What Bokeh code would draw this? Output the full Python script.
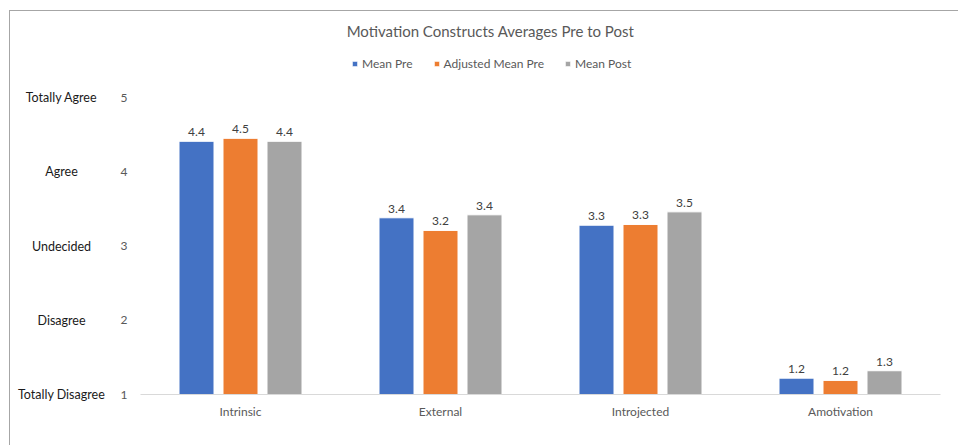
from bokeh.plotting import figure
from bokeh.layouts import row, column
from bokeh.models import (ColumnDataSource, FactorRange, Range1d, FixedTicker, Label,
                          Legend, LegendItem)
from bokeh.transform import dodge
from bokeh.embed import file_html
from bokeh.resources import INLINE

categories = ["Intrinsic", "External", "Introjected", "Amotivation"]
mean_pre = [4.41, 3.38, 3.28, 1.22]
adjusted_mean_pre = [4.45, 3.21, 3.29, 1.19]
mean_post = [4.41, 3.42, 3.46, 1.32]
series_names = ["Mean Pre", "Adjusted Mean Pre", "Mean Post"]
scale_ticks = [1, 2, 3, 4, 5]
scale_words = ["Totally Disagree", "Disagree", "Undecided", "Agree", "Totally Agree"]
title_text = "Motivation Constructs Averages Pre to Post"

colors = ["#4472C4", "#ED7D31", "#A5A5A5"]
FONT = "Lato"

# layout geometry (page pixels)
W, H = 958, 445
BOX_X, BOX_Y = 10, 11          # content origin inside the bordered box
SPLIT = 110                    # left text panel | chart
FRAME_L, FRAME_R, Y5_PX, FRAME_B = 140, 940, 97, 394
ppu = (FRAME_B - Y5_PX) / 4.0
chart_h = H - BOX_Y
frame_h = FRAME_B - BOX_Y
y_top = 1 + frame_h / ppu

src = ColumnDataSource(dict(
    cat=categories,
    pre=mean_pre, adj=adjusted_mean_pre, post=mean_post,
    pre_t=[f"{v:.1f}" for v in mean_pre],
    adj_t=[f"{v:.1f}" for v in adjusted_mean_pre],
    post_t=[f"{v:.1f}" for v in mean_post],
))

p = figure(width=W - SPLIT, height=chart_h, x_range=FactorRange(*categories, range_padding=0),
           y_range=Range1d(1, y_top), output_backend="svg", toolbar_location=None,
           min_border_left=FRAME_L - SPLIT, min_border_right=W - FRAME_R,
           min_border_top=0, min_border_bottom=H - FRAME_B)
p.outline_line_color = None
p.xgrid.grid_line_color = None
p.ygrid.grid_line_color = None

cols = ["pre", "adj", "post"]
offs = [-0.22, 0.0, 0.22]
renderers = []
for c, o, col in zip(cols, offs, colors):
    r = p.vbar(x=dodge("cat", o, range=p.x_range), top=c, bottom=1, width=0.175,
               source=src, fill_color=col, line_color="white", line_width=1)
    renderers.append(r)
    p.text(x=dodge("cat", o, range=p.x_range), y=c, text=c + "_t", source=src,
           text_align="center", text_baseline="bottom", y_offset=-5,
           text_font_size="12px", text_color="#404040", text_font={"value": FONT})

p.xaxis.axis_line_color = "#D9D9D9"
p.xaxis.major_tick_line_color = None
p.xaxis.minor_tick_line_color = None
p.xaxis.major_label_text_font_size = "12px"
p.xaxis.major_label_text_color = "#595959"
p.xaxis.major_label_text_font = FONT
p.xaxis.major_label_standoff = 3

p.yaxis.ticker = FixedTicker(ticks=scale_ticks)
p.yaxis.axis_line_color = None
p.yaxis.major_tick_line_color = None
p.yaxis.minor_tick_line_color = None
p.yaxis.major_label_text_font_size = "12px"
p.yaxis.major_label_text_color = "#595959"
p.yaxis.major_label_text_font = FONT
p.yaxis.major_label_standoff = 7

# title inside the (extended) frame
p.add_layout(Label(x=490 - FRAME_L, x_units="screen", y=FRAME_B - 30, y_units="screen",
                   text=title_text, text_align="center", text_baseline="middle",
                   text_font_size="15px", text_color="#595959", text_font=FONT))

legend = Legend(items=[LegendItem(label=n, renderers=[r]) for n, r in zip(series_names, renderers)],
                orientation="horizontal", location=(351 - FRAME_L, FRAME_B - 71),
                glyph_width=7, glyph_height=7, label_standoff=4, spacing=20,
                label_height=16, label_text_baseline="middle",
                label_text_font_size="12px", label_text_color="#595959", label_text_font=FONT,
                background_fill_alpha=0, border_line_color=None, padding=2, margin=0)
p.add_layout(legend, "center")

# left panel with the verbal scale labels: its frame fills the whole panel,
# its y range is set so the labels line up with the chart's value scale
lf = figure(width=SPLIT - BOX_X, height=chart_h, x_range=Range1d(0, SPLIT - BOX_X),
            y_range=Range1d(1 - (H - FRAME_B) / ppu, y_top), output_backend="svg",
            toolbar_location=None, x_axis_location=None, y_axis_location=None,
            min_border_left=0, min_border_right=0, min_border_top=0, min_border_bottom=0)
lf.outline_line_color = None
lf.xgrid.grid_line_color = None
lf.ygrid.grid_line_color = None
lf.text(x=[61 - BOX_X] * len(scale_ticks), y=scale_ticks, text=scale_words,
        text_align="center", text_baseline="middle", text_font_size="12.5px",
        text_color="#1a1a1a", text_font={"value": FONT})

layout = row(column(lf), p, styles={"margin-left": f"{BOX_X - 1}px", "margin-top": f"{BOX_Y - 1}px",
                                    "border-top": "1px solid #A6A6A6", "border-left": "1px solid #A6A6A6"})

open("out.html", "w").write(file_html(layout, INLINE))
